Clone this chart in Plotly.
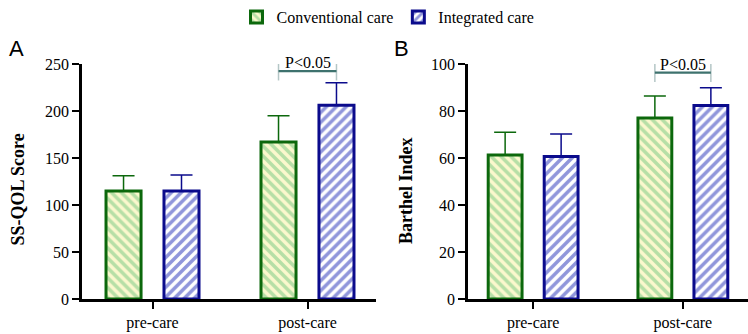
import plotly.graph_objects as go

# ---- data ----
groups = ["pre-care", "post-care"]
series_names = ["Conventional care", "Integrated care"]

sqol_conv = [115, 167]
sqol_conv_err = [16, 28]
sqol_integ = [115, 206]
sqol_integ_err = [17, 24]

barthel_conv = [61.3, 77.0]
barthel_conv_err = [9.7, 9.4]
barthel_integ = [60.6, 82.3]
barthel_integ_err = [9.6, 7.6]

sqol_ticks = [0, 50, 100, 150, 200, 250]
barthel_ticks = [0, 20, 40, 60, 80, 100]
sig_label = "P<0.05"

# ---- style ----
SERIF = "Liberation Serif"
SANS = "Liberation Sans"
GREEN = "#0c680c"
BLUE = "#0b0b8c"
styles = [
    dict(line=GREEN, fg="#b6dfa6", bg="#fbf8cd", shape="\\"),
    dict(line=BLUE, fg="#9096db", bg="#ffffff", shape="/"),
]
BAR_W = 0.226
OFFSETS = [-0.30, 0.074]

fig = go.Figure()

panels = [
    dict(xa="x", ya="y", vals=[sqol_conv, sqol_integ], errs=[sqol_conv_err, sqol_integ_err]),
    dict(xa="x2", ya="y2", vals=[barthel_conv, barthel_integ], errs=[barthel_conv_err, barthel_integ_err]),
]

for pi, p in enumerate(panels):
    for si in range(2):
        st = styles[si]
        fig.add_trace(go.Bar(
            x=[0, 1], y=p["vals"][si],
            xaxis=p["xa"], yaxis=p["ya"],
            name=series_names[si], showlegend=(pi == 0), legendgroup=series_names[si],
            width=BAR_W, offset=OFFSETS[si],
            marker=dict(
                color=st["bg"],
                line=dict(color=st["line"], width=3),
                pattern=dict(shape=st["shape"], fgcolor=st["fg"], bgcolor=st["bg"],
                             size=7, solidity=0.5, fillmode="replace"),
            ),
            error_y=dict(type="data", symmetric=False, array=p["errs"][si],
                         arrayminus=[0, 0], color=st["line"], thickness=1.5, width=11),
        ))

ydom = [35 / 334, 270 / 334]
axis_common = dict(showgrid=False, zeroline=False, showline=True, linecolor="black",
                   linewidth=2.5, ticks="outside", ticklen=7, tickwidth=2, tickcolor="black",
                   automargin=False,
                   tickfont=dict(family=SERIF, size=16, color="black"))

fig.update_layout(
    width=748, height=334,
    margin=dict(l=0, r=0, t=0, b=0, autoexpand=False),
    plot_bgcolor="white", paper_bgcolor="white",
    font=dict(family=SERIF, color="black"),
    showlegend=True,
    legend=dict(orientation="h", x=0.5 + 14 / 748, xanchor="center", y=1.0, yanchor="top",
                font=dict(family=SERIF, size=16, color="black"),
                itemwidth=30, tracegroupgap=0),
    xaxis=dict(domain=[82 / 748, 376 / 748], range=[-0.455, 1.442],
               tickvals=[0, 1], ticktext=groups, anchor="y", **axis_common),
    yaxis=dict(domain=ydom, range=[0, 250], tickvals=sqol_ticks, anchor="x", **axis_common),
    xaxis2=dict(domain=[468 / 748, 1.0], range=[-0.435, 1.435],
                tickvals=[0, 1], ticktext=groups, anchor="y2", **axis_common),
    yaxis2=dict(domain=ydom, range=[0, 100], tickvals=barthel_ticks, anchor="x2", **axis_common),
)

# axis titles and panel letters
fig.add_annotation(text="<b>SS-QOL Score</b>", xref="paper", yref="paper",
                   x=17.5 / 748, y=1 - 190 / 334, textangle=-90, showarrow=False,
                   xanchor="center", yanchor="middle",
                   font=dict(family=SERIF, size=18, color="black"))
fig.add_annotation(text="<b>Barthel Index</b>", xref="paper", yref="paper",
                   x=406 / 748, y=1 - 190 / 334, textangle=-90, showarrow=False,
                   xanchor="center", yanchor="middle",
                   font=dict(family=SERIF, size=18, color="black"))
fig.add_annotation(text="A", xref="paper", yref="paper", x=16.5 / 748, y=1 - 48.5 / 334,
                   xanchor="center", yanchor="middle",
                   showarrow=False, font=dict(family=SANS, size=22, color="black"))
fig.add_annotation(text="B", xref="paper", yref="paper", x=401.5 / 748, y=1 - 48.5 / 334,
                   xanchor="center", yanchor="middle",
                   showarrow=False, font=dict(family=SANS, size=22, color="black"))

# significance brackets (between post-care bars)
brackets = [
    dict(xa="x", ya="y", ymax=250, vals=[sqol_conv, sqol_integ], errs=[sqol_conv_err, sqol_integ_err], pad=0.05),
    dict(xa="x2", ya="y2", ymax=100, vals=[barthel_conv, barthel_integ], errs=[barthel_conv_err, barthel_integ_err], pad=0.064),
]
for b in brackets:
    top = max(b["vals"][i][1] + b["errs"][i][1] for i in range(2))
    yb = top + b["pad"] * b["ymax"]
    x0 = 1 + OFFSETS[0] + BAR_W / 2
    x1 = 1 + OFFSETS[1] + BAR_W / 2
    h = 0.04 * b["ymax"]
    for xx in (x0, x1):
        fig.add_shape(type="line", xref=b["xa"], yref=b["ya"], x0=xx, x1=xx,
                      y0=yb - h, y1=yb + h, line=dict(color="#b4c6c6", width=1.5))
    fig.add_shape(type="line", xref=b["xa"], yref=b["ya"], x0=x0, x1=x1, y0=yb, y1=yb,
                  line=dict(color="#3e726e", width=2.2))
    fig.add_annotation(text=sig_label, xref=b["xa"], yref=b["ya"], x=(x0 + x1) / 2, y=yb,
                       yanchor="bottom", showarrow=False, yshift=-2,
                       font=dict(family=SERIF, size=16, color="black"))

fig.write_html("out.html")
